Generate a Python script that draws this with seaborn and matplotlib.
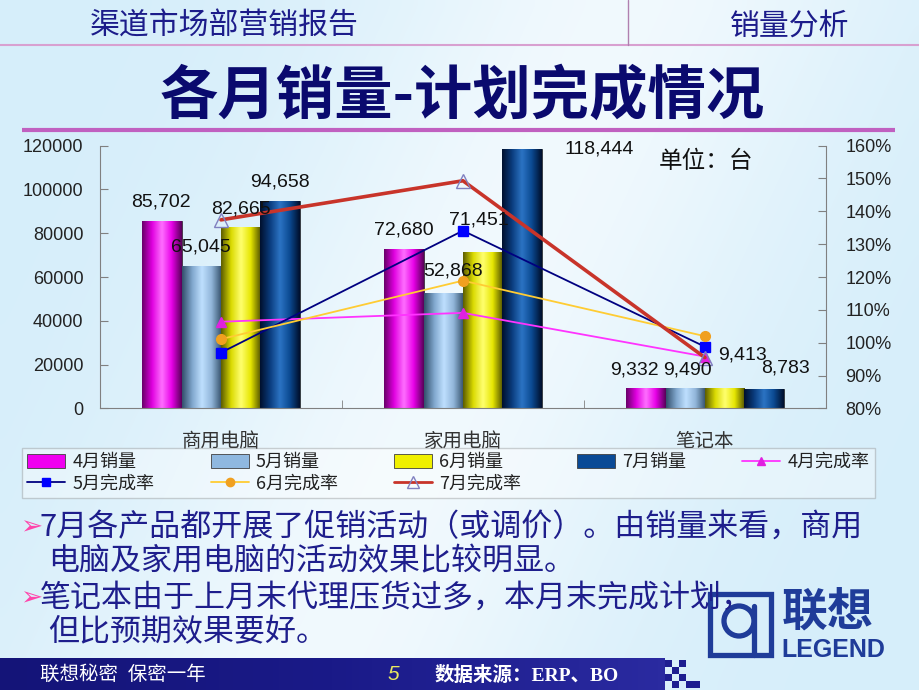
import numpy as np
import pandas as pd
import seaborn as sns
import matplotlib.pyplot as plt
from matplotlib.colors import LinearSegmentedColormap
from matplotlib.patches import Patch, Rectangle, Circle
from matplotlib.lines import Line2D
from matplotlib.ticker import PercentFormatter

# ______________________________________________________ DATA
products = ['商用电脑', '家用电脑', '笔记本']
months = ['4月', '5月', '6月', '7月']

sales_apr = [85702, 72680, 9332]
sales_may = [65045, 52868, 9490]
sales_jun = [82665, 71451, 9413]
sales_jul = [94658, 118444, 8783]

rate_apr = [1.064, 1.091, 0.958]
rate_may = [0.970, 1.341, 0.988]
rate_jun = [1.011, 1.189, 1.020]
rate_jul = [1.374, 1.493, 0.955]

sales_ticks = [0, 20000, 40000, 60000, 80000, 100000, 120000]
rate_ticks = [0.8, 0.9, 1.0, 1.1, 1.2, 1.3, 1.4, 1.5, 1.6]

bullets = ['7月各产品都开展了促销活动（或调价）。由销量来看，商用',
           '电脑及家用电脑的活动效果比较明显。',
           '笔记本由于上月末代理压货过多，本月末完成计划，',
           '但比预期效果要好。']

sales = [sales_apr, sales_may, sales_jun, sales_jul]
rates = [rate_apr, rate_may, rate_jun, rate_jul]

df = pd.DataFrame({
    '产品': products * 4,
    '月份': [m for m in months for _ in products],
    '销量': sales_apr + sales_may + sales_jun + sales_jul,
})

# ______________________________________________________ STYLE
sns.set_style('ticks')
CJK = 'Noto Sans CJK SC'
plt.rcParams['font.family'] = ['Liberation Sans', CJK, 'DejaVu Sans']

bar_mid = ['#F000F0', '#8FB8E0', '#F0F000', '#0A4A96']
bar_grad = [
    ['#6A006A', '#E000E0', '#FF70FF', '#E800E8', '#5A005A'],
    ['#34506C', '#7FA6CC', '#BFE0FF', '#90B4D8', '#34506A'],
    ['#5E5E00', '#DADA00', '#FFFF70', '#E6E600', '#545400'],
    ['#00102E', '#0A3C7E', '#2C74C4', '#0B4A92', '#00102E'],
]
line_col = ['#FF33FF', '#000080', '#FFCC33', '#C8342A']
mark_face = ['#E020E0', '#0000FF', '#F0A020', 'none']
mark_edge = ['#E020E0', '#0000FF', '#F0A020', '#8080C0']
mark_shape = ['^', 's', 'o', '^']
mark_size = [7, 7, 7, 10]
line_w = [1.3, 1.3, 1.3, 2.6]

# label offsets (pixels) from bar top, [month][product]
label_off = [
    [(-1, 19), (0, 19), (-11, 18)],
    [(0, 19), (10, 22), (2, 18)],
    [(0, 18), (-4, 32), (18, 33)],
    [(0, 19), (77, 0), (22, 21)],
]

fig = plt.figure(figsize=(9.2, 6.9), dpi=100)

# ______________________________________________________ SLIDE BACKGROUND
bg = fig.add_axes([0, 0, 1, 1])
bg.set_zorder(-1)
yy, xx = np.mgrid[0:690:10, 0:920:10]
d = (xx - 560 + (yy - 130) * 0.46) / 260.0
t = np.exp(-d ** 2) * 0.75
blue = np.array([214, 238, 250]) / 255.0
white = np.array([250, 253, 255]) / 255.0
img = blue[None, None, :] * (1 - t[..., None]) + white[None, None, :] * t[..., None]
bg.imshow(img, extent=[0, 920, 690, 0], aspect='auto', interpolation='bicubic')
bg.set_xlim(0, 920)
bg.set_ylim(690, 0)
bg.axis('off')

# header
bg.plot([0, 920], [45, 45], color='#D8A0D0', lw=1.5)
bg.plot([628, 628], [0, 45], color='#B080B0', lw=1)
bg.text(90, 26, '渠道市场部营销报告', fontsize=21.5, color='#1C1C8A', family=CJK, va='center')
bg.text(730, 26, '销量分析', fontsize=21.5, color='#1C1C8A', family=CJK, va='center')
bg.text(462, 97, '各月销量-计划完成情况', fontsize=42, color='#0A0A6E', family=CJK,
        weight='bold', ha='center', va='center')
bg.plot([22, 895], [130, 130], color='#C060C0', lw=3, solid_capstyle='butt')

# bullets
for i, (line, y) in enumerate(zip(bullets, [527, 562, 598, 633])):
    if i in (0, 2):
        bg.text(20, y, '➢', fontsize=19, color='#FF44AA', family='DejaVu Sans', va='center')
        bg.text(40, y, line, fontsize=22.3, color='#1E1E8C', family=CJK, va='center')
    else:
        bg.text(48, y, line, fontsize=22.3, color='#1E1E8C', family=CJK, va='center')

# logo
logo = '#1F3C99'
bg.add_patch(Rectangle((710, 594), 61, 61, fill=False, ec=logo, lw=3.8))
bg.add_patch(Circle((739, 621), 15, fill=False, ec=logo, lw=3.8))
bg.plot([754, 754], [606, 655], color=logo, lw=3.8)
bg.text(782, 612, '联想', fontsize=33, color=logo, family=CJK, weight='bold', va='center')
bg.text(781, 650, 'LEGEND', fontsize=18, color=logo, weight='bold',
        family=['Liberation Sans Narrow', 'Liberation Sans'], va='center')

# footer
grad = np.linspace(0, 1, 100)[None, :]
foot_cm = LinearSegmentedColormap.from_list('foot', ['#141478', '#1A1A88', '#2A2AA0'])
bg.imshow(grad, cmap=foot_cm, extent=[0, 665, 690, 658], aspect='auto')
for sx, sy in [(665, 660), (672, 667), (665, 674), (679, 674), (686, 681), (672, 681), (693, 681), (679, 660)]:
    bg.add_patch(Rectangle((sx, sy), 7, 7, color='#1E1E90', lw=0))
bg.set_xlim(0, 920)
bg.set_ylim(690, 0)
foot_font = ['Liberation Serif', CJK]
bg.text(40, 675, '联想秘密  保密一年', fontsize=14, color='white', family=foot_font, va='center')
bg.text(388, 675, '5', fontsize=15, color='#E8E860', style='italic', va='center')
bg.text(435, 675, '数据来源：ERP、BO', fontsize=14, color='white', family=foot_font,
        weight='bold', va='center')

# ______________________________________________________ CHART
ax = fig.add_axes([0.1087, 0.408, 0.789, 0.381])
ax.patch.set_alpha(0)
sns.barplot(data=df, x='产品', y='销量', hue='月份', order=products, hue_order=months,
            palette=bar_mid, width=0.65, saturation=1, edgecolor='#303030', linewidth=0.6,
            legend=False, ax=ax)

for i, cont in enumerate(ax.containers):
    cm = LinearSegmentedColormap.from_list('g%d' % i, bar_grad[i])
    for bar in cont:
        x0 = bar.get_x()
        im = ax.imshow(np.linspace(0, 1, 64)[None, :], cmap=cm, aspect='auto',
                       extent=[x0, x0 + bar.get_width(), 0, bar.get_height()],
                       interpolation='bicubic', zorder=bar.get_zorder() + 0.1)
        im.set_clip_path(bar)

ax.set_xlim(-0.5, 2.5)
ax.set_ylim(0, 120000)
ax.set_yticks(sales_ticks)
ax.set_yticklabels([str(v) for v in sales_ticks])
ax.set_xlabel('')
ax.set_ylabel('')
ax.set_xticks(range(3))
ax.set_xticklabels(products, family=CJK, fontsize=14, color='#333333')
ax.set_xticks([0.5, 1.5], minor=True)
ax.tick_params(axis='x', which='major', length=0, pad=16)
ax.tick_params(axis='x', which='minor', direction='in', length=6, color='#808080')
ax.tick_params(axis='y', direction='in', length=6, color='#808080', labelsize=13,
               labelcolor='#222222', pad=12)
for s in ['left', 'bottom']:
    ax.spines[s].set_color('#808080')
ax.spines['top'].set_visible(False)
ax.spines['right'].set_visible(False)

ax2 = ax.twinx()
x = np.arange(3)
for i in range(4):
    ax2.plot(x, rates[i], color=line_col[i], lw=line_w[i], marker=mark_shape[i],
             ms=mark_size[i], mfc=mark_face[i], mec=mark_edge[i], mew=1)
ax2.set_ylim(0.8, 1.6)
ax2.set_yticks(rate_ticks)
ax2.yaxis.set_major_formatter(PercentFormatter(1, decimals=0))
ax2.tick_params(axis='y', direction='in', length=6, color='#808080', labelsize=13,
                labelcolor='#222222', pad=14)
ax2.spines['right'].set_color('#808080')
ax2.spines['top'].set_visible(False)
ax2.spines['left'].set_visible(False)
ax2.spines['bottom'].set_visible(False)

for i, cont in enumerate(ax.containers):
    for j, bar in enumerate(cont):
        dx, dy = label_off[i][j]
        ax2.annotate(f'{sales[i][j]:,}', xy=(bar.get_x() + bar.get_width() / 2, bar.get_height()),
                     xycoords=ax.transData, xytext=(dx, dy), textcoords='offset pixels',
                     ha='center', va='center', fontsize=14, color='#111111', zorder=10)

ax2.text(0.77, 0.94, '单位：台', transform=ax2.transAxes, fontsize=17, family=CJK,
         color='#111111', va='center')

# ______________________________________________________ LEGEND
bar_h = [Patch(facecolor=bar_mid[i], edgecolor='#404040', lw=0.6) for i in range(4)]
line_h = [Line2D([], [], color=line_col[i], lw=min(line_w[i], 2), marker=mark_shape[i],
                 ms=mark_size[i] - 1, mfc=mark_face[i], mec=mark_edge[i]) for i in range(4)]
bar_l = [m + '销量' for m in months]
line_l = [m + '完成率' for m in months]
handles = [bar_h[0], line_h[1], bar_h[1], line_h[2], bar_h[2], line_h[3], bar_h[3], line_h[0]]
labels = [bar_l[0], line_l[1], bar_l[1], line_l[2], bar_l[2], line_l[3], bar_l[3], line_l[0]]
leg = fig.legend(handles, labels, ncol=5, loc='lower left', mode='expand',
                 bbox_to_anchor=(0.024, 0.278, 0.927, 0.071), borderaxespad=0,
                 prop={'family': CJK, 'size': 13}, frameon=True, fancybox=False,
                 edgecolor='#808080', framealpha=0.35, handlelength=2.1, handleheight=0.8,
                 labelspacing=0.2, handletextpad=0.4, borderpad=0.3, labelcolor='#222222')
leg.get_frame().set_linewidth(1)

fig.savefig('out.png', dpi=100)
